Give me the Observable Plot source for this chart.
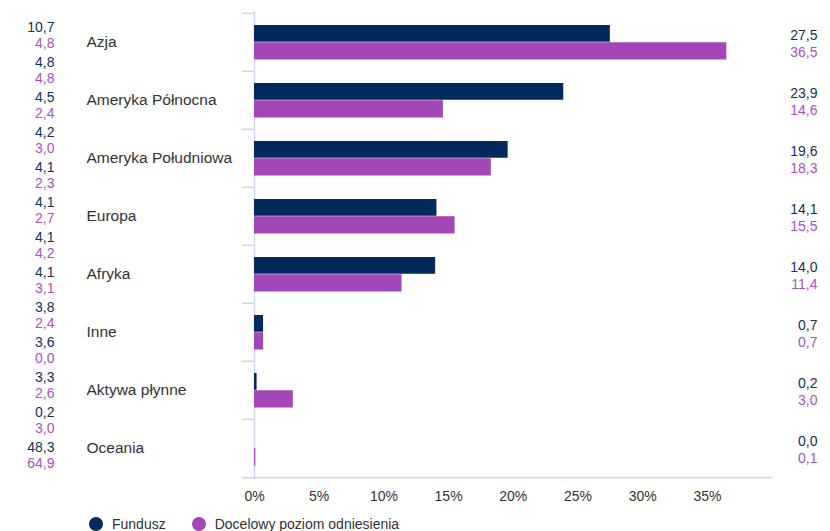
<!DOCTYPE html>
<html><head><meta charset="utf-8">
<script src="https://cdn.jsdelivr.net/npm/d3@7"></script>
<script src="https://cdn.jsdelivr.net/npm/@observablehq/plot@0.6"></script>
<style>
body{margin:0;background:#fff;font-family:Arial,"Liberation Sans",sans-serif}
#wrap{position:relative;width:830px;height:531px;overflow:hidden}
#main{position:absolute;left:0;top:0}
#side{position:absolute;left:0;top:0}
#legend{position:absolute;left:89px;top:516px;display:flex;align-items:center;font-size:14px;color:#333;white-space:nowrap}
#legend .sw{display:inline-block;width:14px;height:14px;border-radius:50%;margin-right:9px}
#legend .it{display:flex;align-items:center;margin-right:26px}
</style></head>
<body><div id="wrap"><div id="main"></div><div id="side"></div><div id="legend"></div></div>
<script>
const categories = ["Azja","Ameryka Północna","Ameryka Południowa","Europa","Afryka","Inne","Aktywa płynne","Oceania"];
const fundValues = [27.5,23.9,19.6,14.1,14.0,0.7,0.2,0.0];
const benchValues = [36.5,14.6,18.3,15.5,11.4,0.7,3.0,0.1];
const xTicks = [0,5,10,15,20,25,30,35];
const seriesNames = ["Fundusz","Docelowy poziom odniesienia"];
const sideFund = [10.7,4.8,4.5,4.2,4.1,4.1,4.1,4.1,3.8,3.6,3.3,0.2,48.3];
const sideBench = [4.8,4.8,2.4,3.0,2.3,2.7,4.2,3.1,2.4,0.0,2.6,3.0,64.9];

const navy = "#002a5c", purple = "#a346b8";
const navyText = "#14305a", purpleText = "#a852c2";
const axisColor = "#d3d6e2";
const fmt = v => v.toFixed(1).replace(".", ",");

const data = categories.map((c,i)=>({cat:c, fund:fundValues[i], bench:benchValues[i]}));
const step = (479-11)/categories.length;

const chart = Plot.plot({
  width: 830, height: 510,
  marginTop: 11, marginBottom: 31, marginLeft: 242, marginRight: 58,
  style: {fontFamily: "Arial, 'Liberation Sans', sans-serif", background: "transparent"},
  x: {domain: [-0.927, 40.03], axis: null},
  y: {domain: categories, padding: 0, axis: null},
  marks: [
    Plot.ruleY(categories, {y: d=>d, x1: -0.927, x2: 0, dy: -step/2, stroke: axisColor, strokeWidth: 1.5}),
    Plot.ruleY([categories[categories.length-1]], {y: d=>d, dy: step/2, stroke: axisColor, strokeWidth: 1.5}),
    Plot.ruleX([0], {stroke: axisColor, strokeWidth: 1.5}),
    Plot.barX(data, {x: "fund", y: "cat", fill: navy, insetTop: 12, insetBottom: step-29.25}),
    Plot.barX(data, {x: "bench", y: "cat", fill: purple, insetTop: 29.25, insetBottom: 11.5}),
    Plot.text(categories, {y: d=>d, text: d=>d, frameAnchor: "left", textAnchor: "start", dx: -156, fontSize: 15.5, fill: "#333"}),
    Plot.text(data, {y: "cat", text: d=>fmt(d.fund), frameAnchor: "right", textAnchor: "end", dx: 45, dy: -6.5, fontSize: 14, fill: navyText}),
    Plot.text(data, {y: "cat", text: d=>fmt(d.bench), frameAnchor: "right", textAnchor: "end", dx: 45, dy: 10.25, fontSize: 14, fill: purpleText}),
    Plot.axisX(xTicks, {tickSize: 0, tickPadding: 12, tickFormat: d=>d+"%", fontSize: 14, fill: "#333", label: null})
  ]
});
document.getElementById("main").appendChild(chart);

const idx = d3.range(sideFund.length);
const side = Plot.plot({
  width: 70, height: 500,
  marginTop: 22, marginBottom: 500-452.8, marginLeft: 0, marginRight: 16,
  style: {fontFamily: "Arial, 'Liberation Sans', sans-serif", background: "transparent"},
  x: {axis: null},
  y: {type: "point", domain: idx, padding: 0, axis: null},
  marks: [
    Plot.text(idx, {y: d=>d, text: d=>fmt(sideFund[d]), frameAnchor: "right", textAnchor: "end", fontSize: 14, fill: navyText}),
    Plot.text(idx, {y: d=>d, text: d=>fmt(sideBench[d]), frameAnchor: "right", textAnchor: "end", dy: 16.5, fontSize: 14, fill: purpleText})
  ]
});
document.getElementById("side").appendChild(side);

const legend = document.getElementById("legend");
[navy, purple].forEach((c,i)=>{
  const it = document.createElement("span"); it.className = "it";
  const sw = document.createElement("span"); sw.className = "sw"; sw.style.background = c;
  it.appendChild(sw); it.appendChild(document.createTextNode(seriesNames[i]));
  legend.appendChild(it);
});
</script></body></html>
